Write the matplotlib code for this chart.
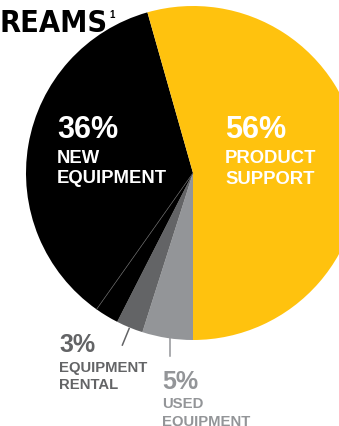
import numpy as np
import matplotlib
matplotlib.use("Agg")
import matplotlib.pyplot as plt
from matplotlib import font_manager

# --- data (clockwise from 6 o'clock) ---
segments = ["Used equipment", "Equipment rental", "Other", "New equipment", "Product support"]
shares = [4.9, 2.6, 2.3, 35.8, 54.4]
colors = ["#939598", "#636466", "#000000", "#000000", "#FFC20E"]

W, H = 339, 426
CX, CY, R = 193, 173, 167   # pixel coords, y measured from top


def py(y):
    # convert a y position measured from the top into data coords
    return H - y


# look for a condensed bold face for the title
cond = None
for f in font_manager.fontManager.ttflist:
    n = (f.name + " " + f.fname).lower()
    if ("narrow" in n or "condensed" in n or f.stretch in ("condensed", "semi-condensed")) \
            and (f.weight in ("bold", 700) or "bold" in n):
        cond = f
        break

fig = plt.figure(figsize=(W / 100, H / 100), dpi=100)
ax = fig.add_axes([0, 0, 1, 1])

wedges, _ = ax.pie(shares, colors=colors, startangle=-90, counterclock=False,
                   center=(CX, py(CY)), radius=R, frame=True,
                   wedgeprops=dict(linewidth=0, antialiased=True))
ax.set_xlim(0, W)
ax.set_ylim(0, H)
ax.axis("off")


def rim(theta_deg, r):
    t = np.deg2rad(theta_deg)
    return CX + r * np.cos(t), py(CY) + r * np.sin(t)


# thin divider inside the black part
th = wedges[2].theta1
x0, y0 = rim(th, 0)
x1, y1 = rim(th, R)
ax.plot([x0, x1], [y0, y1], color="#5a5a5a", lw=0.5, solid_capstyle="butt")

# leader line for rental (radial)
mid = (wedges[1].theta1 + wedges[1].theta2) / 2
xa, ya = rim(mid, R + 1)
xb, yb = rim(mid, R + 19)
ax.plot([xa, xb], [ya, yb], color="#636466", lw=1.1)

# leader line for used equipment (vertical)
mid = (wedges[0].theta1 + wedges[0].theta2) / 2
xa, ya = rim(mid, R)
ax.plot([xa + 3, xa + 3], [ya, ya - 18], color="#939598", lw=1.1)

font = "Liberation Sans"


def label(x, y, s, size, color):
    ax.text(x, py(y), s, fontsize=size, color=color, fontweight="bold",
            family=[font, "DejaVu Sans"], ha="left", va="baseline")


# title (cropped in the original)
if cond is not None:
    tprops = dict(fontproperties=font_manager.FontProperties(fname=cond.fname, size=22))
else:
    tprops = dict(fontsize=17, fontweight="bold", family=[font, "DejaVu Sans"])
t = ax.text(0, py(32), "REAMS", color="black", ha="left", va="baseline", **tprops)
fig.canvas.draw()
bb = t.get_window_extent()
ax.text(bb.x1 + 1, py(18), "1", fontsize=7, fontweight="bold",
        family=[font, "DejaVu Sans"], color="black", ha="left", va="baseline")

label(57, 138, "36%", 22, "white")
label(57, 163, "NEW", 13.3, "white")
label(57, 183, "EQUIPMENT", 13.3, "white")

label(225, 138, "56%", 22, "white")
label(225, 163, "PRODUCT", 13.3, "white")
label(225, 184, "SUPPORT", 13.3, "white")

label(59, 352, "3%", 18, "#636466")
label(59, 372, "EQUIPMENT", 10.7, "#636466")
label(59, 389, "RENTAL", 10.7, "#636466")

label(162, 389, "5%", 18, "#939598")
label(162, 408, "USED", 10.7, "#939598")
label(162, 426, "EQUIPMENT", 10.7, "#939598")

fig.savefig("out.png", dpi=100)
